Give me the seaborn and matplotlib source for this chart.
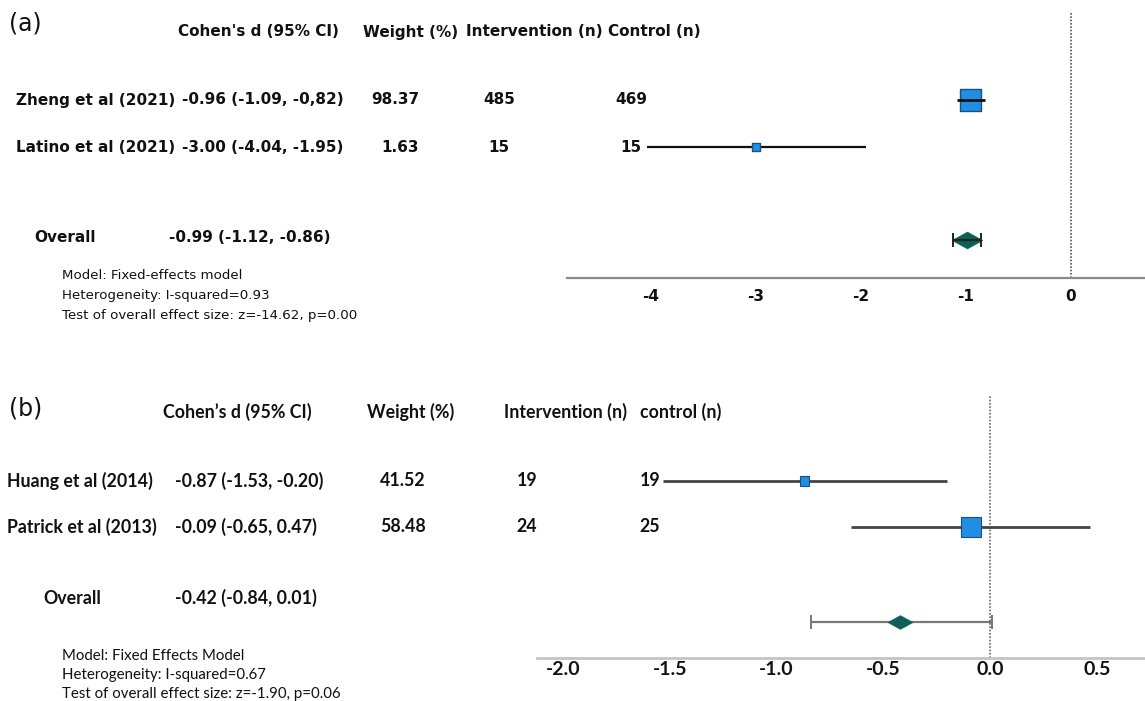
import matplotlib
matplotlib.use("Agg")
import matplotlib.pyplot as plt
import seaborn as sns
import pandas as pd
import numpy as np
from matplotlib.path import Path

# ---------------- data ----------------
a_studies = ["Zheng et al (2021)", "Latino et al (2021)"]
a_d = [-0.96, -3.00]
a_lo = [-1.09, -4.04]
a_hi = [-0.82, -1.95]
a_ci_text = ["-0.96 (-1.09, -0,82)", "-3.00 (-4.04, -1.95)"]
a_weight = [98.37, 1.63]
a_weight_text = ["98.37", "1.63"]
a_int_n = [485, 15]
a_ctl_n = [469, 15]
a_overall = -0.99
a_overall_lo = -1.12
a_overall_hi = -0.86
a_overall_text = "-0.99 (-1.12, -0.86)"
a_notes = ["Model: Fixed-effects model",
           "Heterogeneity: I-squared=0.93",
           "Test of overall effect size: z=-14.62, p=0.00"]
a_headers = ["Cohen's d (95% CI)", "Weight (%)", "Intervention (n)", "Control (n)"]
a_ticks = [-4, -3, -2, -1, 0]
a_tick_labels = ["-4", "-3", "-2", "-1", "0"]

b_studies = ["Huang et al (2014)", "Patrick et al (2013)"]
b_d = [-0.87, -0.09]
b_lo = [-1.53, -0.65]
b_hi = [-0.20, 0.47]
b_ci_text = ["-0.87 (-1.53, -0.20)", "-0.09 (-0.65, 0.47)"]
b_weight = [41.52, 58.48]
b_weight_text = ["41.52", "58.48"]
b_int_n = [19, 24]
b_ctl_n = [19, 25]
b_overall = -0.42
b_overall_lo = -0.84
b_overall_hi = 0.01
b_overall_text = "-0.42 (-0.84, 0.01)"
b_notes = ["Model: Fixed Effects Model",
           "Heterogeneity: I-squared=0.67",
           "Test of overall effect size: z=-1.90, p=0.06"]
b_headers = ["Cohen\u2019s d (95% CI)", "Weight (%)", "Intervention (n)", "control (n)"]
b_ticks = [-2.0, -1.5, -1.0, -0.5, 0.0, 0.5]
b_tick_labels = ["-2.0", "-1.5", "-1.0", "-0.5", "0.0", "0.5"]

# ---------------- layout ----------------
W, H = 1145, 701
sns.set_theme(style="white")
plt.rcParams["font.family"] = ["DejaVu Sans"]
fig = plt.figure(figsize=(W / 100, H / 100), dpi=100)

def fx(px):
    return px / W

def fy(py):
    return 1 - py / H

def txt(x, y, s, ha="left", size=10, weight="bold", family="DejaVu Sans", color="#111111"):
    fig.text(fx(x), fy(y), s, ha=ha, va="center", fontsize=size,
             fontweight=weight, family=family, color=color)

diamond = Path([(-1, 0), (0, 0.55), (1, 0), (0, -0.55), (-1, 0)],
               [Path.MOVETO, Path.LINETO, Path.LINETO, Path.LINETO, Path.CLOSEPOLY])

BLUE = "#1f8fe6"
BLUE_EDGE = "#1d4f7c"
TEAL = "#0d5f58"

def make_axes(left, right, top, bottom, xlim):
    ax = fig.add_axes([fx(left), fy(bottom), fx(right - left), (bottom - top) / H])
    ax.set_xlim(*xlim)
    ax.set_ylim(bottom, top)  # pixel-like rows, inverted
    for s in ["top", "left", "right"]:
        ax.spines[s].set_visible(False)
    ax.set_yticks([])
    ax.patch.set_alpha(0)
    return ax

# ================= panel (a) =================
axa = make_axes(567, W, 13, 278, ((567 - 1071) / 105, (W - 1071) / 105))
a_rows = [100, 147]
a_over_y = 240
dfa = pd.DataFrame({"d": a_d, "row": a_rows, "weight": a_weight})
axa.axvline(0, color="#555555", ls=(0, (1, 1)), lw=1.2, zorder=1)
sns.scatterplot(data=dfa, x="d", y="row", size="weight", sizes=(26, 230),
                marker="s", color=BLUE, edgecolor=BLUE_EDGE, linewidth=1.0,
                legend=False, ax=axa, zorder=3)
for d, lo, hi, r, w in zip(a_d, a_lo, a_hi, a_rows, a_weight):
    axa.plot([lo, hi], [r, r], color="#111111", lw=2.0 if w > 50 else 1.6,
             zorder=4 if w > 50 else 2, solid_capstyle="butt")
sns.scatterplot(x=[a_overall], y=[a_over_y], marker=diamond, s=480, color=TEAL,
                edgecolor=TEAL, linewidth=0.5, ax=axa, zorder=3, legend=False)
axa.errorbar([a_overall], [a_over_y],
             xerr=[[a_overall - a_overall_lo], [a_overall_hi - a_overall]],
             fmt="none", ecolor="#222222", elinewidth=1.6, capsize=5, capthick=1.4, zorder=4)
axa.spines["bottom"].set_color("#8a8a8a")
axa.spines["bottom"].set_linewidth(1.6)
axa.set_xticks(a_ticks)
axa.set_xticklabels(a_tick_labels, fontweight="bold", fontsize=11)
axa.tick_params(axis="x", length=0, pad=8, colors="#111111")
axa.set_xlabel("")
axa.set_ylabel("")

fs_a = 11
txt(9, 24, "(a)", size=17, weight="normal")
for h, x in zip(a_headers, [178, 363, 466, 608]):
    txt(x, 32, h, size=fs_a)
for i, r in enumerate(a_rows):
    txt(16, r, a_studies[i], size=fs_a)
    txt(182, r, a_ci_text[i], size=fs_a)
    txt(419, r, a_weight_text[i], ha="right", size=fs_a)
    txt(499, r, str(a_int_n[i]), ha="center", size=fs_a)
    txt(631, r, str(a_ctl_n[i]), ha="center", size=fs_a)
txt(34, 238, "Overall", size=fs_a)
txt(169, 238, a_overall_text, size=fs_a)
for j, n in enumerate(a_notes):
    txt(62, 276 + 19.5 * j, n, size=9.6, weight="normal")

# ================= panel (b) =================
bx0, bsc = 990, 213.5
axb = make_axes(537, W, 395, 658, ((537 - bx0) / bsc, (W - bx0) / bsc))
b_rows = [481, 527]
b_over_y = 622
dfb = pd.DataFrame({"d": b_d, "row": b_rows, "weight": b_weight})
axb.axvline(0, color="#666666", ls=(0, (1, 1)), lw=1.2, zorder=1)
for lo, hi, r in zip(b_lo, b_hi, b_rows):
    axb.plot([lo, hi], [r, r], color="#444444", lw=2.0, zorder=2, solid_capstyle="butt")
sns.scatterplot(data=dfb, x="d", y="row", size="weight", sizes=(45, 200),
                marker="s", color=BLUE, edgecolor=BLUE_EDGE, linewidth=0.8,
                legend=False, ax=axb, zorder=3)
axb.errorbar([b_overall], [b_over_y],
             xerr=[[b_overall - b_overall_lo], [b_overall_hi - b_overall]],
             fmt="none", ecolor="#777777", elinewidth=1.6, capsize=5, capthick=1.4, zorder=2)
sns.scatterplot(x=[b_overall], y=[b_over_y], marker=diamond, s=320, color=TEAL,
                edgecolor=TEAL, linewidth=0.5, ax=axb, zorder=3, legend=False)
axb.spines["bottom"].set_color("#c4c4c4")
axb.spines["bottom"].set_linewidth(2.0)
axb.set_xticks(b_ticks)
axb.set_xticklabels(b_tick_labels, fontweight="bold", fontsize=14, family="Lato")
axb.tick_params(axis="x", length=0, pad=2, colors="#111111")
axb.set_xlabel("")
axb.set_ylabel("")

fs_b = 12.8
fb = "Lato"
txt(9, 409, "(b)", size=17, weight="normal")
for h, x in zip(b_headers, [163, 367, 504, 640]):
    txt(x, 412, h, size=fs_b, family=fb)
for i, r in enumerate(b_rows):
    txt(7, r, b_studies[i], size=fs_b, family=fb)
    txt(175, r, b_ci_text[i], size=fs_b, family=fb)
    txt(403, r, b_weight_text[i], ha="center", size=fs_b, family=fb)
    txt(527, r, str(b_int_n[i]), ha="center", size=fs_b, family=fb)
    txt(650, r, str(b_ctl_n[i]), ha="center", size=fs_b, family=fb)
txt(43, 598, "Overall", size=fs_b, family=fb)
txt(175, 598, b_overall_text, size=fs_b, family=fb)
for j, n in enumerate(b_notes):
    txt(62, 656 + 19 * j, n, size=10.8, weight="normal", family=fb)

fig.savefig("out.png", dpi=100)
